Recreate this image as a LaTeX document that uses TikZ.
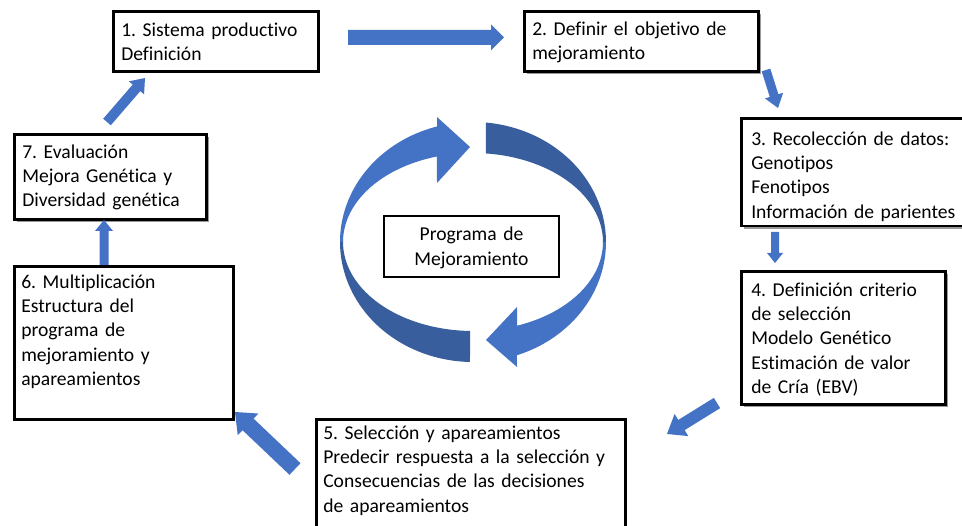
\documentclass[tikz,border=0pt]{standalone}
\usepackage{fontspec}
\setmainfont{Carlito}[Ligatures=NoCommon]
\usetikzlibrary{calc,shadows}
\definecolor{blueA}{HTML}{4472C4}
\definecolor{blueD}{HTML}{385E9D}
\newcommand\topstr[1]{\rule{0pt}{#1}}
\newcommand\botstr[1]{\rule[-#1]{0pt}{#1}}
\newcommand\blockarr[5]{%
  \coordinate (tmpb) at ($(#2)!#5!(#1)$);
  \fill[blueA] ($(#1)!#3!90:(#2)$) -- ($(tmpb)!#3!-90:(#1)$) -- ($(tmpb)!#4!-90:(#1)$)
    -- (#2) -- ($(tmpb)!#4!90:(#1)$) -- ($(tmpb)!#3!90:(#1)$) -- ($(#1)!#3!-90:(#2)$) -- cycle;}
\frenchspacing
\begin{document}
\begin{tikzpicture}[x=1pt,y=-1pt,
  box/.style={draw=black, line width=2.6pt, fill=white, anchor=north west, align=left,
    inner ysep=0pt, inner xsep=8pt, font=\fontsize{19.6}{24.25}\selectfont\frenchspacing},
  shad/.style={drop shadow={shadow xshift=2.5pt, shadow yshift=-2.5pt, fill=black, opacity=0.4}}]
\fill[white] (0,0) rectangle (962,526);
\useasboundingbox (0,0) rectangle (962,526);

% boxes
\node[box, text width=189pt] (b1) at (112,10) {\topstr{25pt}1. Sistema productivo\\Definición\botstr{11pt}};
\node[box, shad, text width=218pt] (b2) at (523,10) {\topstr{24pt}2. Definir el objetivo de\\mejoramiento\botstr{12pt}};
\node[box, shad, inner xsep=10pt, text width=230pt] (b3) at (740,117) {\topstr{27pt}3. Recolección de datos:\\Genotipos\\Fenotipos\\Información de parientes\botstr{8pt}};
\node[box, shad, inner xsep=10pt, text width=184pt] (b4) at (740,270) {\topstr{25pt}4. Definición criterio\\de selección\\Modelo Genético\\Estimación de valor\\de Cría (EBV)\botstr{11pt}};
\node[box, inner xsep=7pt, text width=295pt] (b5) at (315,418) {\topstr{20pt}5. Selección y apareamientos\\Predecir respuesta a la selección y\\Consecuencias de las decisiones\\de apareamientos\botstr{30pt}};
\node[box, inner xsep=7pt, text width=205pt] (b6) at (13,265) {\topstr{22pt}6. Multiplicación\\Estructura del\\programa de\\mejoramiento y\\apareamientos\botstr{34pt}};
\node[box, shad, text width=176pt] (b7) at (13,133) {\topstr{24pt}7. Evaluación\\Mejora Genética y\\Diversidad genética\botstr{13pt}};
\node[box, line width=2pt, align=center, text width=160pt, inner xsep=7.5pt] (c) at (383,215) {\topstr{25pt}Programa de\\Mejoramiento\botstr{12pt}};

% cycle arrows
\fill[blueA] plot[domain=180:105.7, samples=40] ({473+133*cos(\x)},{242-120*sin(\x)})
  -- (437,117) -- (470,147) -- (437,183)
  -- plot[domain=106.1:180, samples=40] ({473+130*cos(\x)},{242-89*sin(\x)}) -- cycle;
\fill[blueD] plot[domain=180:268.7, samples=40] ({473+133*cos(\x)},{242-120*sin(\x)})
  -- plot[domain=268.7:180, samples=40] ({473+130*cos(\x)},{242-89*sin(\x)}) -- cycle;
\fill[blueD] plot[domain=84.4:0, samples=40] ({473+133*cos(\x)},{242-120*sin(\x)})
  -- plot[domain=0:84.3, samples=40] ({473+130*cos(\x)},{242-89*sin(\x)}) -- cycle;
\fill[blueA] plot[domain=0:-70.7, samples=40] ({473+133*cos(\x)},{242-120*sin(\x)})
  -- (517,367) -- (486,340) -- (517,307)
  -- plot[domain=-70.2:0, samples=40] ({473+130*cos(\x)},{242-89*sin(\x)}) -- cycle;

% block arrow end points
\coordinate (a12s) at (348,37.5); \coordinate (a12e) at (504,37.5);
\coordinate (a23s) at (766,70);   \coordinate (a23e) at (778,108);
\coordinate (a34s) at (775,232);  \coordinate (a34e) at (775,263);
\coordinate (a45s) at (717,403);  \coordinate (a45e) at (667,434);
\coordinate (a56s) at (295,469);  \coordinate (a56e) at (235,412);
\coordinate (a67s) at (104,265);  \coordinate (a67e) at (104,220);
\coordinate (a71s) at (107,122);  \coordinate (a71e) at (145,78);
\blockarr{a12s}{a12e}{7.5pt}{13pt}{13pt}
\blockarr{a23s}{a23e}{4.5pt}{9.5pt}{13pt}
\blockarr{a34s}{a34e}{4pt}{8pt}{10pt}
\blockarr{a45s}{a45e}{6pt}{13pt}{17pt}
\blockarr{a56s}{a56e}{8pt}{15pt}{18pt}
\blockarr{a67s}{a67e}{4.5pt}{9pt}{11pt}
\blockarr{a71s}{a71e}{5pt}{10pt}{13pt}
\end{tikzpicture}
\end{document}
